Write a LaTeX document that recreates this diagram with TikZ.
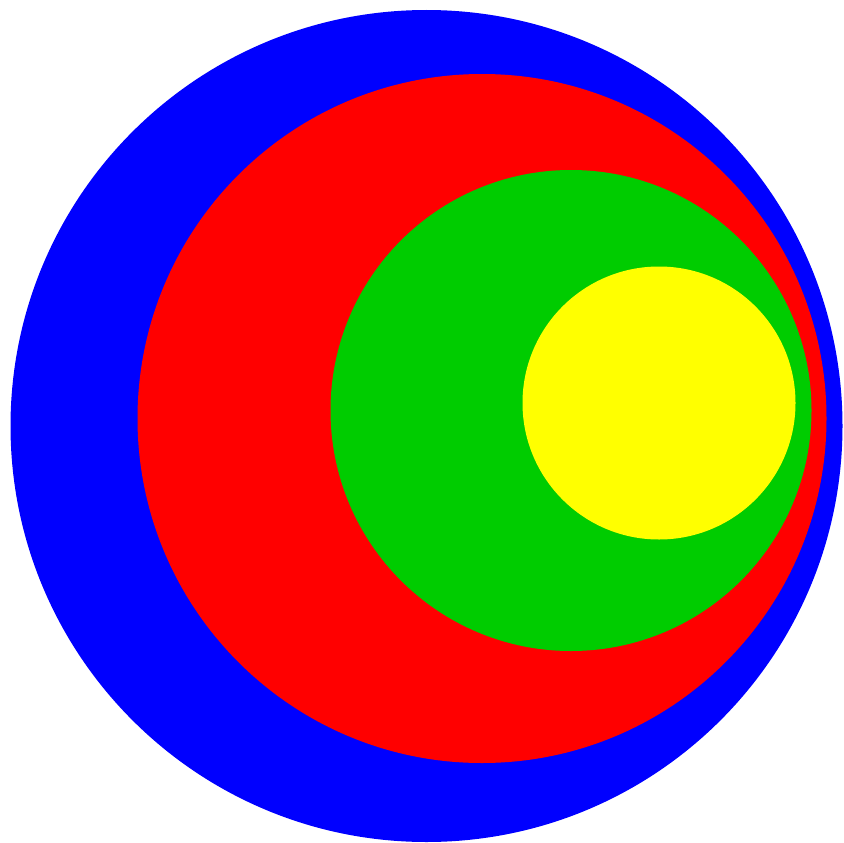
\documentclass[tikz,border=0pt]{standalone}
\usepackage{tikz}
\usepackage{xcolor}
\definecolor{leafgreen}{RGB}{0,204,0}
\definecolor{sunyellow}{RGB}{255,255,0}
\definecolor{purered}{RGB}{255,0,0}
\definecolor{pureblue}{RGB}{0,0,255}

\begin{document}
\begin{tikzpicture}[x=1pt,y=-1pt]
    \useasboundingbox (0,0) rectangle (843,843);
    % -------------------------
    % Outer disc
    % -------------------------
    \fill[pureblue] (426.5, 426) circle (416);

    % -------------------------
    % Second disc
    % -------------------------
    \fill[purered] (482, 418.5) circle (344.5);

    % -------------------------
    % Third disc
    % -------------------------
    \fill[leafgreen] (571, 410.5) circle (240.5);

    % -------------------------
    % Inner disc
    % -------------------------
    \fill[sunyellow] (659, 403) circle (136.5);

\end{tikzpicture}
\end{document}
